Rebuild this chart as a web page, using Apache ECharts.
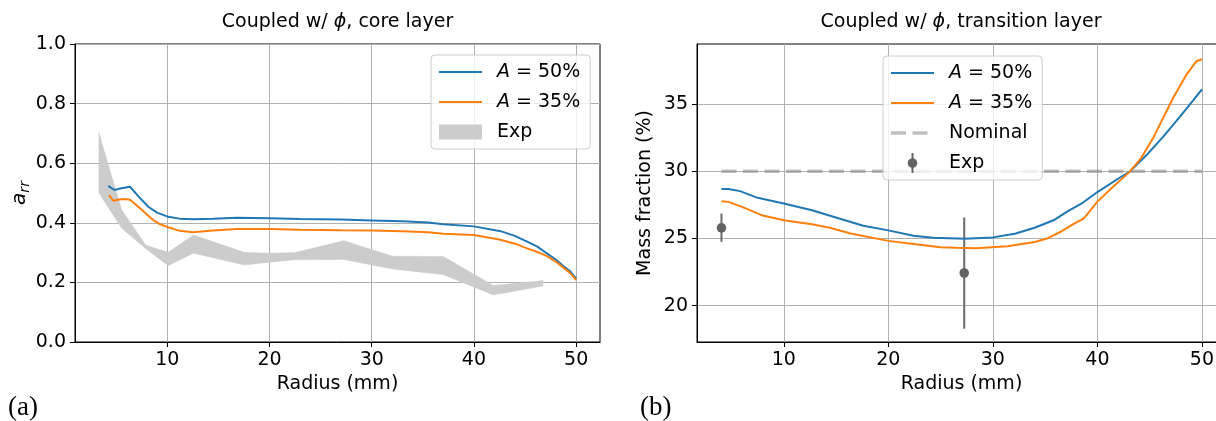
<!DOCTYPE html>
<html><head><meta charset="utf-8">
<script src="https://cdn.jsdelivr.net/npm/echarts@6/dist/echarts.min.js"></script>
<style>html,body{margin:0;padding:0;background:#fff}#c{width:1216px;height:421px}</style>
</head><body><div id="c"></div>
<script>
// ---------- data: panel (a) core layer ----------
const coreX50 = [4.23, 4.82, 5.5, 6.35, 7.2, 8.14, 9.0, 10.1, 11.2, 12.5, 14.5, 16.8, 20, 23, 27, 30, 33, 35.5, 37, 40, 42.6, 44, 45.2, 46.2, 47.1, 48, 48.8, 49.4, 50];
const coreY50 = [0.524, 0.510, 0.516, 0.521, 0.488, 0.454, 0.434, 0.420, 0.414, 0.412, 0.414, 0.417, 0.415, 0.413, 0.411, 0.408, 0.405, 0.401, 0.395, 0.388, 0.372, 0.356, 0.337, 0.320, 0.298, 0.277, 0.253, 0.238, 0.213];
const coreX35 = [4.3, 4.72, 5.3, 5.86, 6.35, 7.33, 8.0, 8.63, 9.3, 10.1, 11.2, 12.5, 14.5, 16.8, 20, 23, 27, 30, 33, 35.5, 37, 40, 42.6, 44, 45.2, 46.2, 47.1, 48, 48.8, 49.4, 50];
const coreY35 = [0.493, 0.474, 0.478, 0.480, 0.477, 0.449, 0.428, 0.409, 0.395, 0.385, 0.373, 0.368, 0.374, 0.379, 0.379, 0.377, 0.375, 0.374, 0.372, 0.368, 0.363, 0.359, 0.343, 0.330, 0.314, 0.302, 0.289, 0.270, 0.248, 0.232, 0.208];
const expX    = [3.31, 5.53, 7.9, 10.08, 12.56, 17.53, 20.0, 22.5, 27.27, 32.04, 37.0, 41.9, 46.75];
const expHigh = [0.702, 0.444, 0.325, 0.301, 0.359, 0.301, 0.298, 0.300, 0.340, 0.288, 0.287, 0.190, 0.206];
const expLow  = [0.500, 0.382, 0.313, 0.256, 0.298, 0.258, 0.268, 0.276, 0.277, 0.245, 0.226, 0.158, 0.188];

// ---------- data: panel (b) transition layer ----------
const trX50 = [4.04, 4.71, 5.82, 7.5, 10, 12.7, 15.3, 17.6, 20, 22.4, 24.3, 27.3, 30, 32.1, 34, 35.8, 37.1, 38.5, 40, 42.2, 43.1, 44.7, 46.3, 47.9, 49.2, 50];
const trY50 = [28.67, 28.67, 28.52, 28.02, 27.6, 27.1, 26.48, 25.95, 25.6, 25.2, 25.05, 24.98, 25.08, 25.35, 25.8, 26.35, 27.0, 27.6, 28.45, 29.55, 29.97, 31.2, 32.57, 34.06, 35.3, 36.09];
const trX35 = [4.04, 4.71, 6.0, 7.9, 10, 12.7, 14.4, 16.4, 20, 22.8, 25, 26.5, 28.4, 31.4, 34, 35.2, 36.5, 37.7, 38.7, 40, 41.5, 43.1, 44.2, 45.4, 47.3, 48.6, 49.5, 50];
const trY35 = [27.77, 27.72, 27.35, 26.73, 26.36, 26.06, 25.8, 25.37, 24.82, 24.55, 24.35, 24.3, 24.27, 24.42, 24.74, 25.0, 25.5, 26.06, 26.5, 27.74, 28.85, 29.97, 31.0, 32.57, 35.54, 37.28, 38.2, 38.33];
const nominalX = [4.04, 50];
const nominalY = [30, 30];
const trExpX = [4.04, 27.26];
const trExpY = [25.79, 22.43];
const trExpLow = [24.75, 18.29];
const trExpHigh = [26.86, 26.56];

// ---------- ticks / labels ----------
const xTicks = [10, 20, 30, 40, 50];
const yTicksB = [20, 25, 30, 35];
const titleA = 'Coupled w/ {i|ϕ}, core layer';
const titleB = 'Coupled w/ {i|ϕ}, transition layer';
const xName = 'Radius (mm)';
const yNameB = 'Mass fraction (%)';
const LBL = {
  a50: '{s| }{i|A} = 50%', a35: '{s| }{i|A} = 35%', aExp: '{s| }Exp',
  b50: '{s| }{i|A} = 50%', b35: '{s| }{i|A} = 35%', bNom: '{s| }Nominal', bExp: '{s| }Exp'
};

const FONT = 'DejaVu Sans';
const BLUE = '#1f77b4', ORANGE = '#ff7f0e';
const NOMC = 'rgba(128,128,128,0.5)';
const zip = (xs, ys) => xs.map((x, i) => [x, ys[i]]);

function xAx(gi, min, max) {
  return {
    type: 'value', gridIndex: gi, min: min, max: max,
    name: xName, nameLocation: 'middle', nameGap: 31,
    nameTextStyle: {fontFamily: FONT, fontSize: 19, color: '#000'},
    axisLine: {show: true, onZero: false, lineStyle: {color: '#000', width: 1}},
    axisTick: {show: true, customValues: xTicks, length: 5, lineStyle: {color: '#000', width: 1}},
    axisLabel: {show: true, customValues: xTicks, fontFamily: FONT, fontSize: 19, color: '#000', margin: 9},
    splitLine: {show: true, lineStyle: {color: '#b0b0b0', width: 1}}
  };
}

const richLegend = {
  s: {width: 10, fontFamily: FONT, fontSize: 19, color: '#000'},
  i: {fontStyle: 'italic', fontFamily: FONT, fontSize: 19, color: '#000'}
};
// legend handle shapes (kept aspect by the legend)
const lineIcon = 'path://M0,0H43V2H0Z';
const dashIcon = 'path://M0,0H15V3.5H0Z M21.5,0H36.5V3.5H21.5Z M42.99,0H43V3.5H42.99Z';
const errIcon = 'path://M0,10L0.01,10L0,10.01Z M43,10L42.99,10L43,10.01Z M20.5,0L22.5,0L22.5,20L20.5,20Z M16.7,10C16.7,7.35 18.85,5.2 21.5,5.2C24.15,5.2 26.3,7.35 26.3,10C26.3,12.65 24.15,14.8 21.5,14.8C18.85,14.8 16.7,12.65 16.7,10Z';

const chart = echarts.init(document.getElementById('c'), null, {renderer: 'canvas'});
chart.setOption({
  animation: false,
  backgroundColor: '#fff',
  grid: [
    {left: 75, top: 44, width: 525, height: 298, show: true, borderColor: '#000', borderWidth: 1, containLabel: false, outerBoundsMode: 'none'},
    {left: 697, top: 44, width: 529, height: 298, show: true, borderColor: '#000', borderWidth: 1, containLabel: false, outerBoundsMode: 'none'}
  ],
  xAxis: [xAx(0, 0.97, 52.33), xAx(1, 1.7, 52.3)],
  yAxis: [
    {
      type: 'value', gridIndex: 0, min: 0, max: 1, interval: 0.2,
      name: '{a|a}{s|rr}', nameLocation: 'middle', nameGap: 38, nameRotate: 90,
      nameTextStyle: {rich: {
        a: {fontFamily: FONT, fontSize: 20, fontStyle: 'italic', color: '#000'},
        s: {fontFamily: FONT, fontSize: 14, fontStyle: 'italic', color: '#000', padding: [10, 0, 0, 0]}
      }},
      axisLine: {show: true, lineStyle: {color: '#000', width: 1}},
      axisTick: {show: true, length: 5, lineStyle: {color: '#000'}},
      axisLabel: {fontFamily: FONT, fontSize: 19, color: '#000', margin: 9, formatter: v => v.toFixed(1)},
      splitLine: {show: true, lineStyle: {color: '#b0b0b0', width: 1}}
    },
    {
      type: 'value', gridIndex: 1, min: 17.3, max: 39.46,
      name: yNameB, nameLocation: 'middle', nameGap: 42, nameRotate: 90,
      nameTextStyle: {fontFamily: FONT, fontSize: 19, color: '#000'},
      axisLine: {show: true, lineStyle: {color: '#000', width: 1}},
      axisTick: {show: true, customValues: yTicksB, length: 5, lineStyle: {color: '#000'}},
      axisLabel: {customValues: yTicksB, fontFamily: FONT, fontSize: 19, color: '#000', margin: 9},
      splitLine: {show: true, lineStyle: {color: '#b0b0b0', width: 1}}
    }
  ],
  legend: [
    {
      orient: 'vertical', left: 431, top: 55, selectedMode: false, symbolKeepAspect: true,
      data: [{name: 'a50', icon: lineIcon}, {name: 'a35', icon: lineIcon}, {name: 'aExp', icon: 'rect'}],
      itemWidth: 43, itemHeight: 15, itemGap: 10, padding: [7, 10, 7, 8],
      backgroundColor: 'rgba(255,255,255,0.8)', borderColor: '#cccccc', borderWidth: 1, borderRadius: 4,
      formatter: n => LBL[n],
      textStyle: {fontFamily: FONT, fontSize: 19, color: '#000', lineHeight: 20, rich: richLegend}
    },
    {
      orient: 'vertical', left: 883, top: 56, selectedMode: false, symbolKeepAspect: true,
      data: [{name: 'b50', icon: lineIcon}, {name: 'b35', icon: lineIcon}, {name: 'bNom', icon: dashIcon}, {name: 'bExp', icon: errIcon}],
      itemWidth: 43, itemHeight: 20, itemGap: 10, padding: [7, 10, 7, 8],
      backgroundColor: 'rgba(255,255,255,0.8)', borderColor: '#cccccc', borderWidth: 1, borderRadius: 4,
      formatter: n => LBL[n],
      textStyle: {fontFamily: FONT, fontSize: 19, color: '#000', lineHeight: 20, rich: richLegend}
    }
  ],
  graphic: [
    {type: 'text', x: 337.5, y: 22, style: {text: titleA, fontFamily: FONT, fontSize: 19, fill: '#000', align: 'center', verticalAlign: 'middle',
      rich: {i: {fontStyle: 'italic', fontFamily: FONT, fontSize: 19, fill: '#000'}}}},
    {type: 'text', x: 961, y: 22, style: {text: titleB, fontFamily: FONT, fontSize: 19, fill: '#000', align: 'center', verticalAlign: 'middle',
      rich: {i: {fontStyle: 'italic', fontFamily: FONT, fontSize: 19, fill: '#000'}}}},
    {type: 'text', x: 8, y: 408, style: {text: '(a)', fontFamily: 'Liberation Serif', fontSize: 27, fill: '#000', align: 'left', verticalAlign: 'middle'}},
    {type: 'text', x: 640, y: 408, style: {text: '(b)', fontFamily: 'Liberation Serif', fontSize: 27, fill: '#000', align: 'left', verticalAlign: 'middle'}}
  ],
  series: [
    {name: 'a50', type: 'line', xAxisIndex: 0, yAxisIndex: 0, data: zip(coreX50, coreY50), symbol: 'none', z: 4,
      itemStyle: {color: BLUE}, lineStyle: {color: BLUE, width: 2}},
    {name: 'a35', type: 'line', xAxisIndex: 0, yAxisIndex: 0, data: zip(coreX35, coreY35), symbol: 'none', z: 4,
      itemStyle: {color: ORANGE}, lineStyle: {color: ORANGE, width: 2}},
    {name: 'aExp', type: 'custom', xAxisIndex: 0, yAxisIndex: 0, z: 3,
      itemStyle: {color: '#cccccc'},
      data: expX.map((x, i) => [x, expLow[i], expHigh[i]]),
      renderItem: function (params, api) {
        if (params.dataIndex !== 0) return null;
        const up = expX.map((x, i) => api.coord([x, expHigh[i]]));
        const lo = expX.map((x, i) => api.coord([x, expLow[i]])).reverse();
        return {type: 'polygon', shape: {points: up.concat(lo)}, style: {fill: '#cccccc', stroke: '#cccccc', lineWidth: 0.5}};
      }},
    {name: 'b50', type: 'line', xAxisIndex: 1, yAxisIndex: 1, data: zip(trX50, trY50), symbol: 'none', z: 4,
      itemStyle: {color: BLUE}, lineStyle: {color: BLUE, width: 2}},
    {name: 'b35', type: 'line', xAxisIndex: 1, yAxisIndex: 1, data: zip(trX35, trY35), symbol: 'none', z: 4,
      itemStyle: {color: ORANGE}, lineStyle: {color: ORANGE, width: 2}},
    {name: 'bNom', type: 'line', xAxisIndex: 1, yAxisIndex: 1, data: zip(nominalX, nominalY), symbol: 'none', z: 3,
      itemStyle: {color: NOMC}, lineStyle: {color: NOMC, width: 3.5, type: [15, 6.5]}},
    {name: 'bExp', type: 'custom', xAxisIndex: 1, yAxisIndex: 1, z: 4,
      itemStyle: {color: '#626262'},
      data: trExpX.map((x, i) => [x, trExpY[i], trExpLow[i], trExpHigh[i]]),
      renderItem: function (params, api) {
        const p = api.coord([api.value(0), api.value(1)]);
        const pl = api.coord([api.value(0), api.value(2)]);
        const ph = api.coord([api.value(0), api.value(3)]);
        return {type: 'group', children: [
          {type: 'line', shape: {x1: pl[0], y1: pl[1], x2: ph[0], y2: ph[1]}, style: {stroke: '#6a6a6a', lineWidth: 2}},
          {type: 'circle', shape: {cx: p[0], cy: p[1], r: 4.8}, style: {fill: '#626262'}}
        ]};
      }}
  ]
});
</script>
</body></html>
